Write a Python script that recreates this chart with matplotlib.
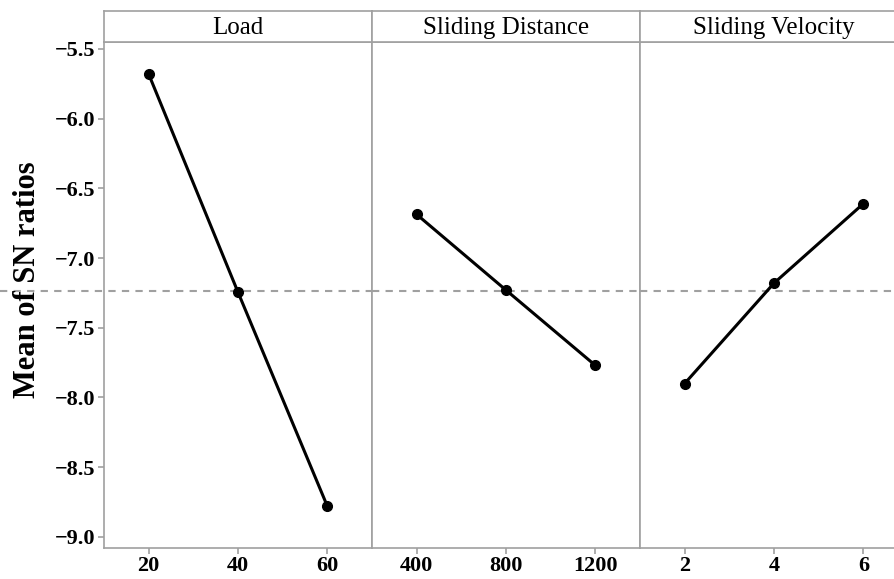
import matplotlib.pyplot as plt

plt.rcParams['font.family'] = ['Liberation Serif', 'DejaVu Serif']

# main effects for SN ratios
factors = ["Load", "Sliding Distance", "Sliding Velocity"]
load_levels = [20, 40, 60]
load_sn = [-5.68, -7.245, -8.78]
dist_levels = [400, 800, 1200]
dist_sn = [-6.687, -7.23, -7.77]
vel_levels = [2, 4, 6]
vel_sn = [-7.90, -7.18, -6.61]
grand_mean = -7.235
yticks = [-5.5, -6.0, -6.5, -7.0, -7.5, -8.0, -8.5, -9.0]

levels = [load_levels, dist_levels, vel_levels]
values = [load_sn, dist_sn, vel_sn]
xlims = [(10, 70), (200, 1400), (1, 7)]

grey = "#a0a0a0"
W, H = 895, 579
fig = plt.figure(figsize=(W / 100, H / 100), dpi=100)

left, pw = 104, 268
top_strip, top_data, bottom = 11, 42, 548

for i in range(3):
	x0 = (left + i * pw) / W
	ax = fig.add_axes([x0, (H - bottom) / H, pw / W, (bottom - top_data) / H])
	ax.plot(levels[i], values[i], color="black", lw=2.2, marker="o", ms=7, zorder=3)
	ax.set_xlim(*xlims[i])
	ax.set_ylim(-9.08, -5.45)
	ax.set_xticks(levels[i])
	ax.set_xticklabels([str(v) for v in levels[i]], fontsize=16, fontweight="bold")
	xmin = -left / pw if i == 0 else 0
	ax.axhline(grand_mean, xmin=xmin, xmax=1, color=grey, lw=1.5, ls=(0, (3.5, 3)), clip_on=False, zorder=1)
	for s in ax.spines.values():
		s.set_color(grey)
		s.set_linewidth(1.2)
	ax.tick_params(color=grey, length=4, width=1.2, pad=2)
	if i == 0:
		ax.set_yticks(yticks)
		ax.set_yticklabels(["\u2212%.1f" % abs(v) for v in yticks], fontsize=16, fontweight="bold")
		ax.set_ylabel("Mean of SN ratios", fontsize=22, fontweight="bold")
		ax.yaxis.set_label_coords(-0.232, 0.53)
	else:
		ax.set_yticks([])

	# header strip
	hx = fig.add_axes([x0, (H - top_data) / H, pw / W, (top_data - top_strip) / H])
	hx.set_xticks([])
	hx.set_yticks([])
	for s in hx.spines.values():
		s.set_color(grey)
		s.set_linewidth(1.2)
	hx.text(0.5, 0.45, factors[i], ha="center", va="center", fontsize=18, transform=hx.transAxes)

fig.savefig("out.png", dpi=100)
